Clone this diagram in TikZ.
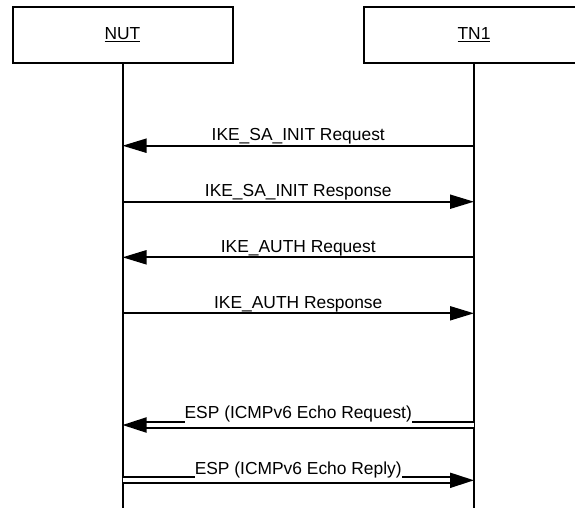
\documentclass[tikz,border=0pt]{standalone}
\usepackage{fontspec}
\setmainfont{Liberation Sans}
\usetikzlibrary{arrows.meta}
\begin{document}
\begin{tikzpicture}[x=1pt,y=-1pt,
  box/.style={draw, line width=2pt, minimum width=220pt, minimum height=56pt, inner sep=0pt, font=\fontsize{17.4}{20}\selectfont},
  life/.style={line width=2pt},
  msg/.style={line width=2pt, -{Triangle[length=24pt,width=14pt]}},
  dmsg/.style={line width=2pt, double distance=4pt, -{Triangle[length=24pt,width=15pt]}},
  lbl/.style={font=\fontsize{17.4}{20}\selectfont, anchor=base, inner sep=0pt, text=black},
  dlbl/.style={lbl, fill=white, text depth=4.5pt}]
\clip (0,0) rectangle (575,507);
\node[box] (nut) at (122.5,35) {\underline{NUT}};
\node[box] (tn1) at (474,35) {\underline{TN1}};
\coordinate (nutend) at (nut.south |- 0,512);
\coordinate (tn1end) at (tn1.south |- 0,512);
\draw[life] (nut.south) -- (nutend);
\draw[life] (tn1.south) -- (tn1end);
% messages
\coordinate (n1) at (nut.south |- 0,145.7); \coordinate (t1) at (tn1.south |- 0,145.7);
\coordinate (n2) at (nut.south |- 0,201.7); \coordinate (t2) at (tn1.south |- 0,201.7);
\coordinate (n3) at (nut.south |- 0,257.3); \coordinate (t3) at (tn1.south |- 0,257.3);
\coordinate (n4) at (nut.south |- 0,313.3); \coordinate (t4) at (tn1.south |- 0,313.3);
\coordinate (n5) at (nut.south |- 0,425); \coordinate (t5) at (tn1.south |- 0,425);
\coordinate (n6) at (nut.south |- 0,480.3); \coordinate (t6) at (tn1.south |- 0,480.3);
\draw[msg] (t1) -- node[lbl, yshift=5pt] {IKE\_SA\_INIT Request} (n1);
\draw[msg] (n2) -- node[lbl, yshift=5pt] {IKE\_SA\_INIT Response} (t2);
\draw[msg] (t3) -- node[lbl, yshift=5pt] {IKE\_AUTH Request} (n3);
\draw[msg] (n4) -- node[lbl, yshift=5pt] {IKE\_AUTH Response} (t4);
\draw[dmsg] (t5) -- node[dlbl, yshift=6.5pt] {ESP (ICMPv6 Echo Request)} (n5);
\draw[dmsg] (n6) -- node[dlbl, yshift=5.5pt] {ESP (ICMPv6 Echo Reply)} (t6);
\end{tikzpicture}
\end{document}
